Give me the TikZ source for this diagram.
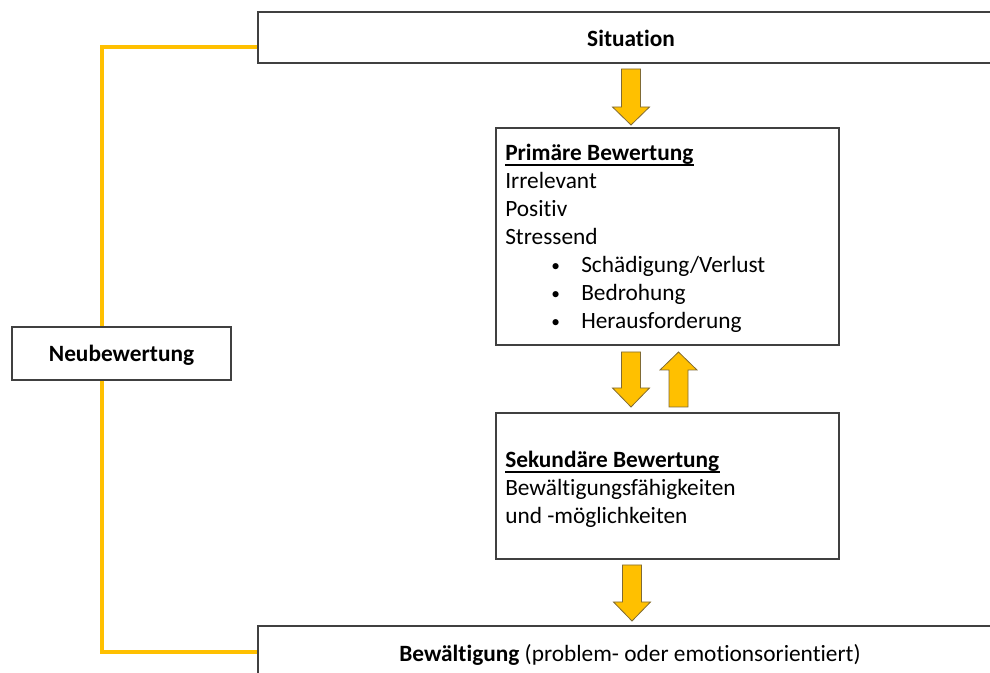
\documentclass[tikz,border=0pt]{standalone}
\usepackage{fontspec}
\setmainfont{Carlito}[Ligatures=NoCommon]
\definecolor{gold}{HTML}{FFC000}
\definecolor{goldline}{HTML}{7F6A35}
\definecolor{boxline}{HTML}{404040}
\tikzset{
  box/.style={draw=boxline, line width=1pt, fill=white, inner sep=0pt, rectangle},
  txt/.style={inner sep=0pt, font=\fontsize{17.5}{21}\selectfont, text=black},
  yel/.style={draw=gold, line width=2.4pt},
  blockarrow/.style={fill=gold, draw=goldline, line width=0.6pt, line join=miter},
  uline/.style={draw=black, line width=1.1pt}
}
\newcommand\arrdown[4]{% cx, top, headbase, tip
  \path[blockarrow] (#1-9.5,#2) -- (#1+9.5,#2) -- (#1+9.5,#3) -- (#1+18.5,#3) -- (#1,#4) -- (#1-18.5,#3) -- (#1-9.5,#3) -- cycle;}
\newcommand\arrup[4]{% cx, bottom, headbase, tip
  \path[blockarrow] (#1-9.5,#2) -- (#1+9.5,#2) -- (#1+9.5,#3) -- (#1+18.5,#3) -- (#1,#4) -- (#1-18.5,#3) -- (#1-9.5,#3) -- cycle;}
\begin{document}
\begin{tikzpicture}[x=0.75pt,y=-0.75pt]
\useasboundingbox (0,0) rectangle (990,673);
\clip (0,0) rectangle (990,673);
% boxes
\node[box, minimum width=760*0.75pt, minimum height=51*0.75pt] (sit) at (638,37.5) {};
\node[box, minimum width=760*0.75pt, minimum height=80*0.75pt] (bew) at (638,666) {};
\node[box, minimum width=343*0.75pt, minimum height=217*0.75pt] (prim) at (667.5,236.5) {};
\node[box, minimum width=343*0.75pt, minimum height=146*0.75pt] (sek) at (667.5,486) {};
% connectors (yellow)
\draw[yel] ([yshift=-7.1pt]sit.west) -| ([xshift=-14.6pt]121.5,327);
\draw[yel] ([yshift=10.5pt]bew.west) -| ([xshift=-14.6pt]121.5,380);
\node[box, minimum width=219*0.75pt, minimum height=53*0.75pt] (neu) at (121.5,353.5) {};
% block arrows
\arrdown{631}{69}{107}{125}
\arrdown{631}{352}{388}{407}
\arrup{678.5}{407}{370}{352}
\arrdown{632}{565}{602}{621}
% texts
\node[txt, anchor=base] (tsit) at (631,47) {\bfseries Situation};
\node[txt, anchor=base] (tneu) at (121.5,362) {\bfseries Neubewertung};
\node[txt, anchor=base] (tbew) at (630,662) {\bfseries Bewältigung\mdseries{} (problem- oder emotionsorientiert)};
\node[txt, anchor=base west] (p0) at (505,161) {\bfseries Primäre Bewertung};
\draw[uline] ([yshift=-3pt]p0.base west) -- ([yshift=-3pt]p0.base east);
\node[txt, anchor=base west] (p1) at (505,189) {Irrelevant};
\node[txt, anchor=base west] (p2) at (505,217) {Positiv};
\node[txt, anchor=base west] (p3) at (505,245) {Stressend};
\foreach \y/\t [count=\i] in {273/Schädigung\slash Verlust,301/Bedrohung,329/Herausforderung}{
  \node[txt, anchor=base west, font=\fontsize{13}{13}\selectfont] (b\i) at (551,\y-1.5) {•};
  \node[txt, anchor=base west] (q\i) at (581,\y) {\t};
}
\node[txt, anchor=base west] (s0) at (505,468) {\bfseries Sekundäre Bewertung};
\draw[uline] ([yshift=-3pt]s0.base west) -- ([yshift=-3pt]s0.base east);
\node[txt, anchor=base west] (s1) at (505,496) {Bewältigungsfähigkeiten};
\node[txt, anchor=base west] (s2) at (505,524) {und -möglichkeiten};
\end{tikzpicture}
\end{document}
